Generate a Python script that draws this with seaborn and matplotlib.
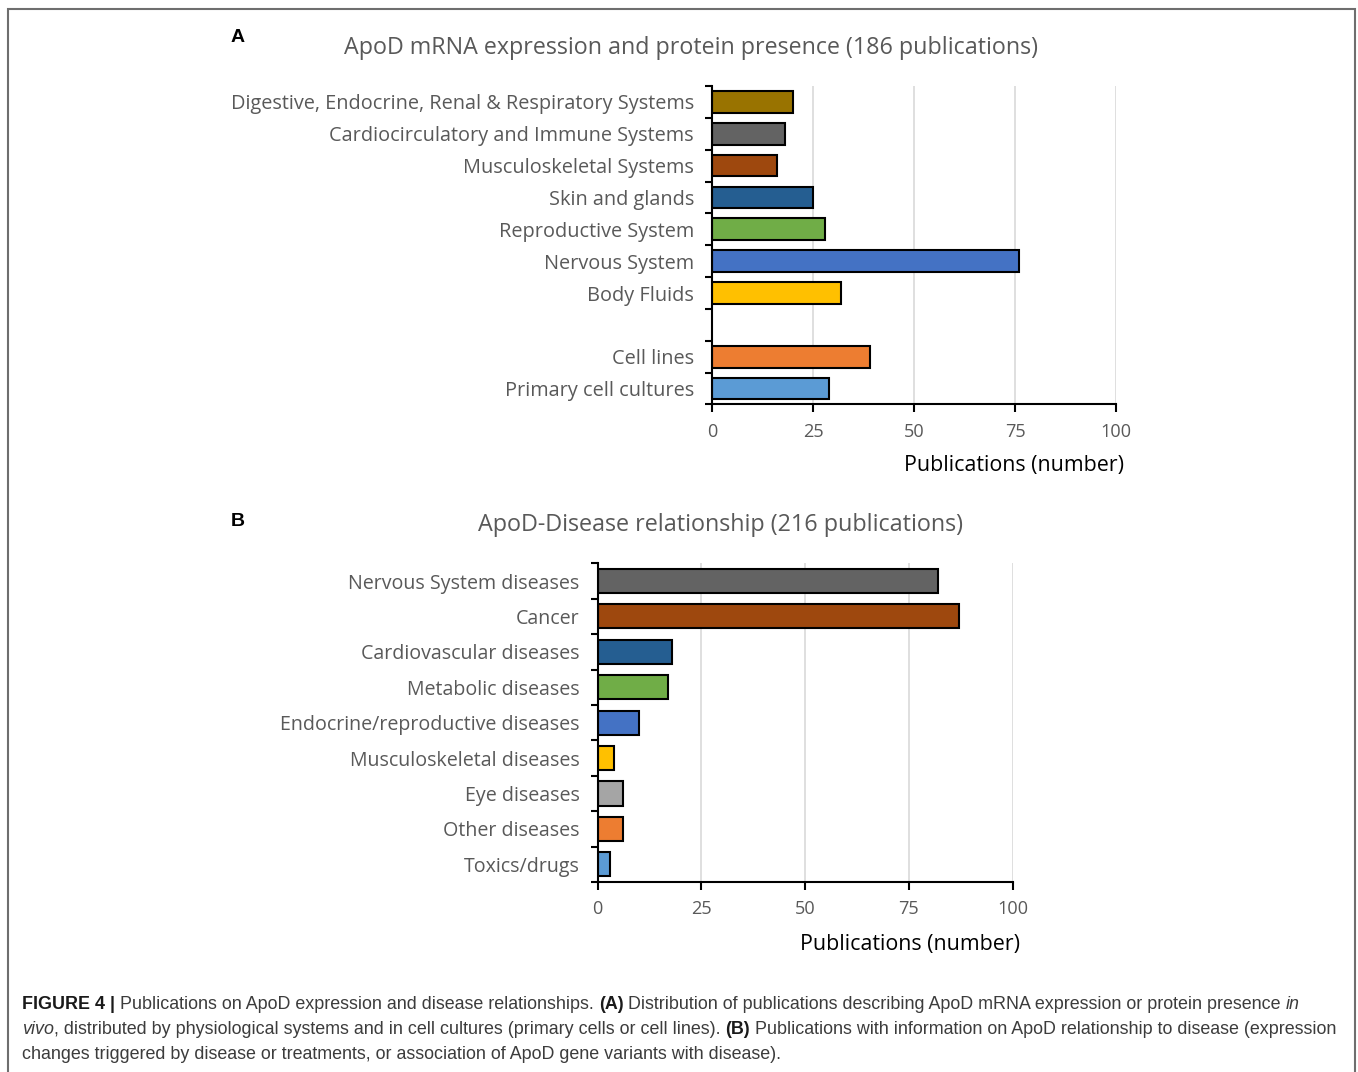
import numpy as np
import pandas as pd
import matplotlib
matplotlib.use("Agg")
import matplotlib.pyplot as plt
from matplotlib.patches import Rectangle
import seaborn as sns

# ---------------- data ----------------
tissue_labels = [
    "Digestive, Endocrine, Renal & Respiratory Systems",
    "Cardiocirculatory and Immune Systems",
    "Musculoskeletal Systems",
    "Skin and glands",
    "Reproductive System",
    "Nervous System",
    "Body Fluids",
    "Cell lines",
    "Primary cell cultures",
]
tissue_counts = [20, 18, 16, 25, 28, 76, 32, 39, 29]
tissue_colors = ["#997300", "#636363", "#9E480E", "#255E91", "#70AD47",
                 "#4472C4", "#FFC000", "#ED7D31", "#5B9BD5"]
# empty slot separating in vivo systems from cell cultures
tissue_order = tissue_labels[:7] + [" "] + tissue_labels[7:]

disease_labels = [
    "Nervous System diseases",
    "Cancer",
    "Cardiovascular diseases",
    "Metabolic diseases",
    "Endocrine/reproductive diseases",
    "Musculoskeletal diseases",
    "Eye diseases",
    "Other diseases",
    "Toxics/drugs",
]
disease_counts = [82, 87, 18, 17, 10, 4, 6, 6, 3]
disease_colors = ["#636363", "#9E480E", "#255E91", "#70AD47", "#4472C4",
                  "#FFC000", "#A5A5A5", "#ED7D31", "#5B9BD5"]

x_ticks = [0, 25, 50, 75, 100]

title_a = "ApoD mRNA expression and protein presence (186 publications)"
title_b = "ApoD-Disease relationship (216 publications)"
x_label = "Publications (number)"

caption_lines = [
    [("FIGURE 4 |", "bold"),
     (" Publications on ApoD expression and disease relationships.", "normal"),
     (" (A)", "bold"),
     (" Distribution of publications describing ApoD mRNA expression or protein presence", "normal"),
     (" in", "italic")],
    [("vivo", "italic"),
     (", distributed by physiological systems and in cell cultures (primary cells or cell lines).", "normal"),
     (" (B)", "bold"),
     (" Publications with information on ApoD relationship to disease (expression", "normal")],
    [("changes triggered by disease or treatments, or association of ApoD gene variants with disease).", "normal")],
]

# ---------------- figure ----------------
W, H = 1358, 1072
sns.set_theme(style="white")
plt.rcParams["font.family"] = ["Open Sans", "DejaVu Sans"]

GRAY_TEXT = "#595959"

fig = plt.figure(figsize=(W / 100, H / 100), dpi=100)
fig.patch.set_facecolor("white")
renderer = fig.canvas.get_renderer()


def px_width(s, **kw):
    t = fig.text(0, 0, s, **kw)
    w = t.get_window_extent(renderer=renderer).width
    t.remove()
    return w


def fit_size(s, target, **kw):
    return 20 * target / px_width(s, fontsize=20, **kw)


def px_axes(left, top, right, bottom):
    return fig.add_axes([left / W, 1 - bottom / H, (right - left) / W, (bottom - top) / H])


def draw_panel(ax, labels, counts, colors, order, longest, longest_w, xlabel_pos):
    df = pd.DataFrame({"category": labels, "publications": counts})
    sns.barplot(data=df, x="publications", y="category", hue="category",
                order=order, hue_order=labels,
                palette=dict(zip(labels, colors)), saturation=1,
                width=0.68, edgecolor="black", linewidth=1.5,
                errorbar=None, legend=False, ax=ax)
    n = len(order)
    ax.set_xlim(0, 100)
    ax.set_ylim(n - 0.5, -0.5)

    ylab_size = fit_size(longest, longest_w)
    ax.set_yticks(range(n), labels=order)
    ax.set_yticks(np.arange(n + 1) - 0.5, minor=True)
    ax.tick_params(axis="y", which="major", left=False, length=0, pad=13,
                   labelsize=ylab_size, labelcolor=GRAY_TEXT)
    ax.tick_params(axis="y", which="minor", left=True, length=5, width=1.5,
                   color="black", direction="out")

    xlab_size = fit_size("100", 31)
    ax.set_xticks(x_ticks)
    ax.tick_params(axis="x", which="major", bottom=True, length=6, width=1.5,
                   color="black", direction="out", pad=7,
                   labelsize=xlab_size, labelcolor=GRAY_TEXT)

    ax.xaxis.grid(True, color="#D9D9D9", linewidth=1.2)
    ax.yaxis.grid(False)
    ax.set_axisbelow(True)
    for side in ("top", "right"):
        ax.spines[side].set_visible(False)
    for side in ("left", "bottom"):
        ax.spines[side].set_visible(True)
        ax.spines[side].set_color("black")
        ax.spines[side].set_linewidth(1.5)

    ax.set_ylabel("")
    ax.set_xlabel(x_label, fontsize=fit_size(x_label, 219), color="black")
    ax.xaxis.set_label_coords(*xlabel_pos)
    ax.xaxis.label.set_va("center")


ax_a = px_axes(712, 86, 1116, 404.5)
draw_panel(ax_a, tissue_labels, tissue_counts, tissue_colors, tissue_order,
           tissue_labels[0], 460, (0.7475, -0.19))

ax_b = px_axes(597.7, 563.3, 1012.7, 882)
draw_panel(ax_b, disease_labels, disease_counts, disease_colors, disease_labels,
           "Endocrine/reproductive diseases", 299, (0.7525, -0.195))

# panel titles
fig.text(691 / W, 1 - 48 / H, title_a, ha="center", va="center",
         fontsize=fit_size(title_a, 692), color=GRAY_TEXT)
fig.text(720 / W, 1 - 525 / H, title_b, ha="center", va="center",
         fontsize=fit_size(title_b, 486), color=GRAY_TEXT)

# panel letters
for letter, y in (("A", 37), ("B", 521)):
    fig.text(238 / W, 1 - y / H, letter, ha="center", va="center",
             fontsize=14, fontweight="bold", family="Liberation Sans", color="black")

# caption with mixed bold / italic runs
STYLES = {
    "normal": dict(family="Liberation Sans", color="#3c3c3c"),
    "bold": dict(family="Liberation Sans", fontweight="bold", color="#1a1a1a"),
    "italic": dict(family="Liberation Sans", fontstyle="italic", color="#3c3c3c"),
}


def line_width(segments, size):
    total = 0.0
    space = px_width("a a", fontsize=size, **STYLES["normal"]) - px_width("aa", fontsize=size, **STYLES["normal"])
    for text, style in segments:
        if text.startswith(" "):
            total += space
        total += px_width(text.strip(), fontsize=size, **STYLES[style])
    return total, space


cap_size = 10 * 1313 / line_width(caption_lines[1], 10)[0]
_, cap_space = line_width(caption_lines[1], cap_size)
for segments, baseline in zip(caption_lines, (1009, 1034, 1059)):
    x = 22.0
    for text, style in segments:
        if text.startswith(" "):
            x += cap_space
        t = fig.text(x / W, 1 - baseline / H, text.strip(), ha="left", va="baseline",
                     fontsize=cap_size, **STYLES[style])
        x += t.get_window_extent(renderer=renderer).width

# outer frame
fig.add_artist(Rectangle((8 / W, -0.05), (1355 - 8) / W, (1 - 8.5 / H) + 0.05,
                         transform=fig.transFigure, fill=False,
                         edgecolor="#6e6e6e", linewidth=1.5))

fig.savefig("out.png", dpi=100)
